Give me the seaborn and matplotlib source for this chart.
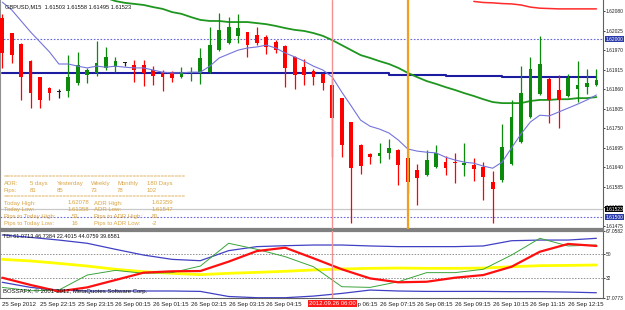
import numpy as np
import pandas as pd
import matplotlib
matplotlib.use("Agg")
import matplotlib.pyplot as plt
import seaborn as sns

# ---------------- data ----------------
opens = [1.62060, 1.62018, 1.61987, 1.61939, 1.61894, 1.61863, 1.61852, 1.61855, 1.61877, 1.61900,
         1.61906, 1.61920, 1.61922, 1.61933, 1.61928, 1.61928, 1.61914, 1.61908, 1.61906, 1.61894,
         1.61906, 1.61906, 1.61908, 1.61970, 1.61990, 1.62010, 1.62021, 1.62012, 1.62007, 1.61993,
         1.61982, 1.61951, 1.61922, 1.61911, 1.61903, 1.61872, 1.61835, 1.61768, 1.61703, 1.61678,
         1.61672, 1.61681, 1.61689, 1.61666, 1.61633, 1.61619, 1.61641, 1.61655, 1.61655, 1.61647,
         1.61647, 1.61641, 1.61599, 1.61605, 1.61650, 1.61711, 1.61782, 1.61847, 1.61889, 1.61858,
         1.61841, 1.61861, 1.61866, 1.61872]
highs = [1.62072, 1.62018, 1.61990, 1.61942, 1.61894, 1.61866, 1.61861, 1.61956, 1.61965, 1.61920,
         1.61996, 1.61979, 1.61951, 1.61937, 1.61942, 1.61942, 1.61925, 1.61914, 1.61911, 1.61922,
         1.61922, 1.61976, 1.62035, 1.62074, 1.62063, 1.62072, 1.62021, 1.62035, 1.62012, 1.61998,
         1.61984, 1.61953, 1.61945, 1.61917, 1.61906, 1.61892, 1.61835, 1.61768, 1.61706, 1.61681,
         1.61709, 1.61720, 1.61692, 1.61689, 1.61650, 1.61689, 1.61703, 1.61672, 1.61681, 1.61709,
         1.61666, 1.61655, 1.61630, 1.61762, 1.61830, 1.61925, 1.61951, 1.62010, 1.61894, 1.61900,
         1.61903, 1.61939, 1.61917, 1.61917]
lows = [1.61920, 1.61934, 1.61830, 1.61807, 1.61807, 1.61830, 1.61835, 1.61838, 1.61872, 1.61877,
        1.61897, 1.61914, 1.61908, 1.61925, 1.61880, 1.61869, 1.61872, 1.61855, 1.61880, 1.61892,
        1.61883, 1.61875, 1.61906, 1.61967, 1.61987, 1.61990, 1.61951, 1.61984, 1.61959, 1.61962,
        1.61866, 1.61861, 1.61872, 1.61872, 1.61858, 1.61669, 1.61669, 1.61484, 1.61621, 1.61650,
        1.61652, 1.61664, 1.61590, 1.61568, 1.61534, 1.61616, 1.61638, 1.61619, 1.61596, 1.61616,
        1.61602, 1.61548, 1.61484, 1.61599, 1.61647, 1.61709, 1.61779, 1.61844, 1.61765, 1.61751,
        1.61838, 1.61824, 1.61847, 1.61869]
closes = [1.61962, 1.61956, 1.61894, 1.61849, 1.61830, 1.61849, 1.61852, 1.61894, 1.61928, 1.61914,
          1.61934, 1.61951, 1.61939, 1.61933, 1.61914, 1.61906, 1.61897, 1.61894, 1.61892, 1.61908,
          1.61908, 1.61948, 1.61984, 1.62027, 1.62035, 1.62032, 1.61984, 1.61990, 1.61979, 1.61970,
          1.61920, 1.61900, 1.61900, 1.61894, 1.61877, 1.61779, 1.61703, 1.61638, 1.61644, 1.61669,
          1.61681, 1.61695, 1.61647, 1.61599, 1.61610, 1.61661, 1.61681, 1.61638, 1.61652, 1.61652,
          1.61636, 1.61613, 1.61579, 1.61697, 1.61782, 1.61849, 1.61917, 1.61931, 1.61830, 1.61830,
          1.61892, 1.61872, 1.61877, 1.61886]

ma_fast = [1.62105, 1.62083, 1.62052, 1.62021, 1.61993, 1.61965, 1.61931, 1.61931, 1.61925, 1.61920,
           1.61925, 1.61922, 1.61925, 1.61922, 1.61920, 1.61920, 1.61914, 1.61908, 1.61906, 1.61906,
           1.61908, 1.61908, 1.61925, 1.61948, 1.61959, 1.61970, 1.61976, 1.61979, 1.61984, 1.61976,
           1.61962, 1.61951, 1.61939, 1.61925, 1.61914, 1.61894, 1.61852, 1.61813, 1.61773, 1.61756,
           1.61748, 1.61737, 1.61717, 1.61692, 1.61686, 1.61683, 1.61681, 1.61669, 1.61661, 1.61655,
           1.61652, 1.61644, 1.61638, 1.61655, 1.61695, 1.61734, 1.61768, 1.61787, 1.61785, 1.61796,
           1.61807, 1.61818, 1.61830, 1.61844]

ma_slow_bars = list(range(10, 64))
ma_slow = [1.62125, 1.62117, 1.62108, 1.62103, 1.62100, 1.62097, 1.62091, 1.62086, 1.62077, 1.62072,
           1.62063, 1.62055, 1.62052, 1.62052, 1.62049, 1.62049, 1.62049, 1.62046, 1.62043, 1.62038,
           1.62032, 1.62027, 1.62024, 1.62018, 1.62010, 1.61998, 1.61984, 1.61970, 1.61956, 1.61948,
           1.61939, 1.61931, 1.61920, 1.61906, 1.61894, 1.61883, 1.61875, 1.61866, 1.61858, 1.61849,
           1.61841, 1.61832, 1.61824, 1.61821, 1.61821, 1.61821, 1.61827, 1.61830, 1.61830, 1.61832,
           1.61832, 1.61835, 1.61835, 1.61838]

pivot_bars = [0, 41, 47, 53, 63]
pivot_vals = [1.61906, 1.61901, 1.61897, 1.61894, 1.61894]

red_ma_bars = list(range(50, 64))
red_ma = [1.62107, 1.62104, 1.62103, 1.62101, 1.62100, 1.62097, 1.62091, 1.62088, 1.62087, 1.62086,
          1.62086, 1.62086, 1.62086, 1.62086]

level_lines = [1.62000, 1.61500]
bid_price = 1.61523
price_ticks = [1.62080, 1.62025, 1.61970, 1.61915, 1.61860, 1.61805, 1.61750, 1.61695,
               1.61640, 1.61585, 1.61530, 1.61475]

tdi_bars = list(range(0, 64, 3))
tdi_upper = [64.1, 62.3, 60.3, 57.9, 53.4, 49.1, 45.9, 44.9, 52.4, 55.4, 56.1,
             56.6, 56.6, 55.9, 55.4, 55.4, 55.4, 55.9, 59.8, 60.3, 60.3, 61.6]
tdi_lower = [28.8, 25.0, 23.0, 22.3, 22.3, 22.3, 22.3, 22.0, 18.2, 17.3, 17.3,
             18.5, 20.5, 23.0, 22.3, 22.0, 22.0, 22.0, 21.8, 21.8, 21.5, 21.0]
tdi_base = [45.9, 44.7, 42.9, 40.9, 38.5, 36.7, 35.5, 34.5, 35.5, 36.2, 37.0,
            38.0, 38.7, 39.2, 39.4, 39.2, 39.2, 39.4, 40.4, 41.2, 41.4, 41.7]
tdi_signal = [32.2, 26.8, 22.0, 25.0, 30.5, 36.0, 37.0, 37.2, 44.2, 52.1, 54.6,
              46.7, 38.5, 31.7, 28.8, 29.2, 32.2, 34.2, 40.4, 51.6, 57.4, 55.9]
tdi_price = [25.0, 22.5, 23.0, 34.2, 37.7, 35.5, 36.0, 40.9, 57.9, 53.4, 47.9,
             40.4, 25.5, 25.0, 29.2, 36.0, 36.0, 38.5, 49.1, 61.6, 55.9, 56.6]
tdi_levels = [50, 32]
tdi_ticks = [67.0582, 50, 32, 17.0773]
tdi_tick_labels = ["67.0582", "50", "32", "17.0773"]

time_tick_bars = [0, 4, 8, 12, 16, 20, 24, 28, 36, 40, 44, 48, 52, 56, 60]
time_tick_labels = ["25 Sep 2012", "25 Sep 22:15", "25 Sep 23:15", "26 Sep 00:15", "26 Sep 01:15",
                    "26 Sep 02:15", "26 Sep 03:15", "26 Sep 04:15", "26 Sep 06:15", "26 Sep 07:15",
                    "26 Sep 08:15", "26 Sep 09:15", "26 Sep 10:15", "26 Sep 11:15", "26 Sep 12:15"]
cursor_bar = 35
cursor_label = "2012.09.26 06:00"
session_bar = 43

title_text = "GBPUSD,M15  1.61503 1.61558 1.61495 1.61523"
tdi_text = "TDI 61.0713 46.7384 22.4015 44.0759 39.6581"
copyright_text = "BOSSAFX, © 2001-2012, MetaQuotes Software Corp."

adr_headers = ["ADR:", "5 days", "Yesterday", "Weekly", "Monthly", "180 Days"]
adr_pips = ["Pips:", "81", "85", "73", "78", "102"]
info_rows = [("Today High:", "1.62078", "ADR High:", "1.62359"),
             ("Today Low:", "1.61358", "ADR Low:", "1.61547"),
             ("Pips to Today High:", "53", "Pips to ADR High:", "81"),
             ("Pips to Today Low:", "16", "Pips to ADR Low:", "-2")]

# ---------------- style ----------------
sns.set_style("white")
plt.rcParams["font.family"] = ["Liberation Sans", "DejaVu Sans"]

W, H = 625, 310
fig = plt.figure(figsize=(W / 100, H / 100), dpi=100)
fig.patch.set_facecolor("white")


def rect(x0, y0, x1, y1):
    return [x0 / W, 1 - y1 / H, (x1 - x0) / W, (y1 - y0) / H]


ax = fig.add_axes(rect(0, 0, 603, 229))
axs = fig.add_axes(rect(0, 231, 603, 298))

GREEN = "#0b8a0b"
RED = "#ff0000"
INFO = "#d9a546"
FS = 4.3
FSR = 3.55

# ---------------- main price panel ----------------
df = pd.DataFrame({"bar": np.arange(len(opens)), "open": opens, "high": highs,
                   "low": lows, "close": closes})
df["color"] = np.where(df.close > df.open, GREEN, np.where(df.close < df.open, RED, "#202020"))

for lv in level_lines:
    ax.axhline(lv, color="#6a6ad8", linestyle=(0, (1.5, 1.5)), linewidth=0.8, zorder=1)
ax.axhline(bid_price, color="#c8c8c8", linewidth=0.9, zorder=1)

ax.vlines(df.bar, df.low, df.high, colors=df.color, linewidth=0.9, zorder=3)
body_h = np.maximum((df.close - df.open).abs(), 0.000025)
ax.bar(df.bar, body_h, bottom=np.minimum(df.open, df.close), width=0.4,
       color=df.color, linewidth=0, zorder=4)

ax.plot(pivot_bars, pivot_vals, drawstyle="steps-post", color="#1c1ca0", linewidth=1.5, zorder=2)
sns.lineplot(x=ma_slow_bars, y=ma_slow, ax=ax, color="#1f961f", linewidth=1.3, zorder=2)
sns.lineplot(x=red_ma_bars, y=red_ma, ax=ax, color="#ff2a2a", linewidth=1.1, zorder=2)
sns.lineplot(x=np.arange(len(ma_fast)), y=ma_fast, ax=ax, color="#7474dc", linewidth=0.8, zorder=5)

ax.axvline(cursor_bar, color="#f49090", linewidth=1.0, zorder=6)
ax.axvline(session_bar, color="#f0a020", linewidth=1.6, zorder=6)

ax.set_xlim(-0.244, 63.70)
ax.set_ylim(1.61467, 1.62111)
ax.yaxis.tick_right()
ax.set_yticks(price_ticks)
ax.set_yticklabels([f"{p:.5f}" for p in price_ticks])
ax.tick_params(axis="y", labelsize=FSR, length=1.5, width=0.6, pad=0.6, colors="#202020")
ax.set_xticks([])
ax.set_xlabel("")
ax.set_ylabel("")
ax.spines["top"].set_visible(False)
ax.spines["left"].set_color("#909090")
ax.spines["left"].set_linewidth(0.8)
ax.spines["right"].set_color("#606060")
ax.spines["right"].set_linewidth(0.8)
ax.spines["bottom"].set_color("#808080")
ax.spines["bottom"].set_linewidth(1.6)


def right_box(axis, val, text, bg):
    axis.annotate(text, xy=(1, val), xycoords=("axes fraction", "data"), xytext=(1.6, 0),
                  textcoords="offset points", ha="left", va="center", fontsize=FSR, color="white",
                  bbox=dict(boxstyle="square,pad=0.1", fc=bg, ec="none"), annotation_clip=False,
                  zorder=10)


right_box(ax, level_lines[0], f"{level_lines[0]:.5f}", "#2a3aa8")
right_box(ax, bid_price, f"{bid_price:.5f}", "#000000")
right_box(ax, level_lines[1], f"{level_lines[1]:.5f}", "#2a3aa8")


def px(x, y):
    return x / 603, 1 - y / 229


ax.text(*px(5, 7), title_text, transform=ax.transAxes, fontsize=4.1, va="center", ha="left",
        color="#101010", zorder=10)

# info block
ax.text(*px(4, 177), "=" * 52, transform=ax.transAxes, fontsize=FS, va="center", color=INFO)
ax.text(*px(4, 197), "=" * 52, transform=ax.transAxes, fontsize=FS, va="center", color=INFO)
hdr_x = [4, 30, 57, 91, 117, 147]
for xx, t in zip(hdr_x, adr_headers):
    ax.text(*px(xx, 183.5), t, transform=ax.transAxes, fontsize=FS, va="center", color=INFO)
for xx, t in zip(hdr_x, adr_pips):
    ax.text(*px(xx, 190.5), t, transform=ax.transAxes, fontsize=FS, va="center", color=INFO)
row_y = [203, 209.5, 216.5, 223]
for yy, (a, b, c, d) in zip(row_y, info_rows):
    bx = 68 if b.startswith("1.") else 72
    ax.text(*px(4, yy), a, transform=ax.transAxes, fontsize=FS, va="center", color=INFO)
    ax.text(*px(bx, yy), b, transform=ax.transAxes, fontsize=FS, va="center", color=INFO)
    ax.text(*px(94, yy), c, transform=ax.transAxes, fontsize=FS, va="center", color=INFO)
    ax.text(*px(152, yy), d, transform=ax.transAxes, fontsize=FS, va="center", color=INFO)

# ---------------- TDI panel ----------------
for lv in tdi_levels:
    axs.axhline(lv, color="#909090", linestyle=(0, (1.5, 1.5)), linewidth=0.7, zorder=1)
sns.lineplot(x=tdi_bars, y=tdi_upper, ax=axs, color="#4040c4", linewidth=0.9, zorder=2)
sns.lineplot(x=tdi_bars, y=tdi_lower, ax=axs, color="#4040c4", linewidth=0.9, zorder=2)
sns.lineplot(x=tdi_bars, y=tdi_base, ax=axs, color="#ffff00", linewidth=2.0, zorder=3)
sns.lineplot(x=tdi_bars, y=tdi_price, ax=axs, color="#3aa43a", linewidth=0.7, zorder=4)
sns.lineplot(x=tdi_bars, y=tdi_signal, ax=axs, color="#ff1010", linewidth=1.6, zorder=5)
axs.axvline(cursor_bar, color="#f49090", linewidth=1.0, zorder=6)

axs.set_xlim(-0.244, 63.70)
axs.set_ylim(17.0773, 67.0582)
axs.yaxis.tick_right()
axs.set_yticks(tdi_ticks)
axs.set_yticklabels(tdi_tick_labels)
axs.tick_params(axis="y", labelsize=FSR, length=1.5, width=0.6, pad=0.6, colors="#202020")
axs.set_xticks(time_tick_bars)
axs.set_xticklabels(time_tick_labels, ha="left")
axs.tick_params(axis="x", labelsize=FS, length=2, width=0.6, pad=1.0, colors="#202020")
axs.set_xlabel("")
axs.set_ylabel("")
axs.spines["top"].set_color("#808080")
axs.spines["top"].set_linewidth(1.6)
axs.spines["left"].set_color("#909090")
axs.spines["left"].set_linewidth(0.8)
axs.spines["right"].set_color("#606060")
axs.spines["right"].set_linewidth(0.8)
axs.spines["bottom"].set_color("#606060")
axs.spines["bottom"].set_linewidth(0.8)

axs.text(3 / 603, 1 - 5 / 67, tdi_text, transform=axs.transAxes, fontsize=4.0, va="center",
         ha="left", color="#101010", zorder=10)
axs.text(3 / 603, 1 - 60 / 67, copyright_text, transform=axs.transAxes, fontsize=4.3,
         va="center", ha="left", color="#101010", zorder=10)

axs.annotate(cursor_label, xy=(cursor_bar, 0), xycoords=("data", "axes fraction"),
             xytext=(0, -4.2), textcoords="offset points", ha="center", va="center",
             fontsize=FS, color="white",
             bbox=dict(boxstyle="square,pad=0.15", fc="#ff1a1a", ec="none"),
             annotation_clip=False, zorder=10)

fig.savefig("out.png", dpi=100, facecolor="white")
